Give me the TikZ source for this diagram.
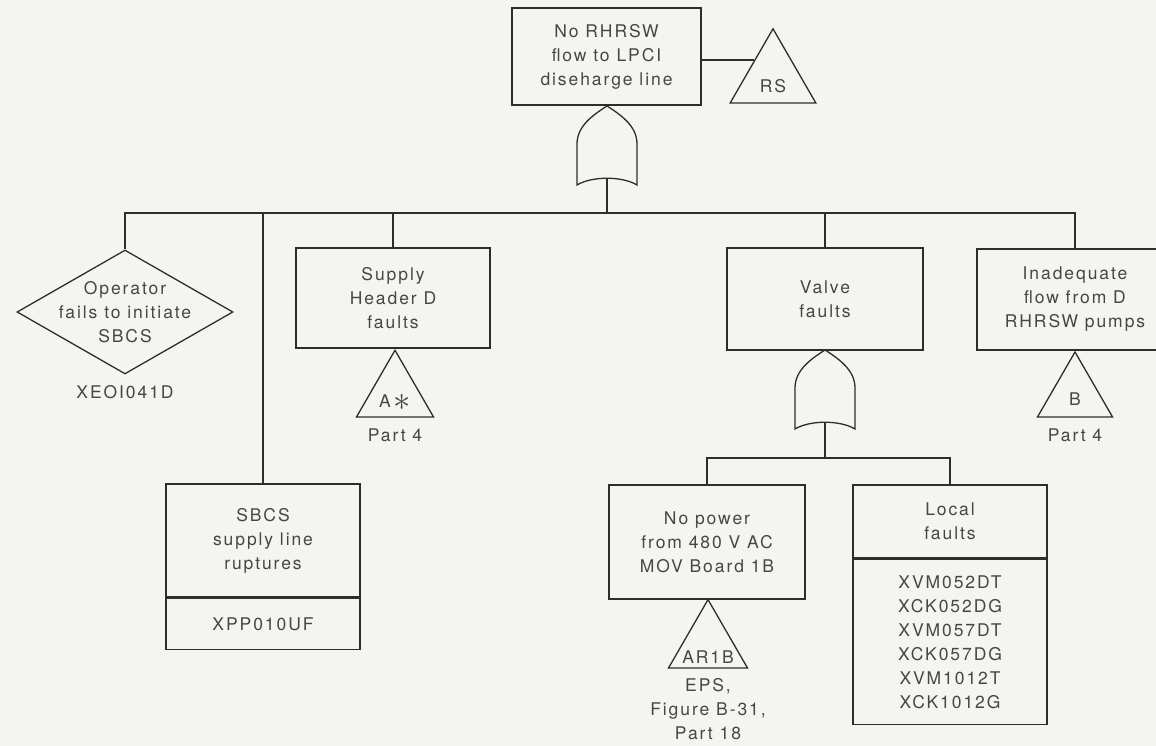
\documentclass[tikz,border=0pt]{standalone}
\usepackage{fontspec}
\setmainfont{TeX Gyre Heros}[LetterSpace=11]
\usepackage{tikz}
\usetikzlibrary{shapes.geometric,calc}

\definecolor{paper}{RGB}{244,244,241}
\definecolor{ink}{RGB}{45,45,45}
\definecolor{txt}{RGB}{70,70,70}

\tikzset{
  event/.style={draw=ink, line width=1.3pt, text=txt, align=center, inner sep=0},
  tri/.style={draw=ink, line width=1.3pt, regular polygon, regular polygon sides=3, inner sep=0},
  lbl/.style={text=txt, align=center, inner sep=0},
  tritext/.style={lbl, anchor=base},
  wire/.style={draw=ink, line width=1.8pt},
  orgate/.pic={
    \draw[ink, line width=1.3pt, fill=paper] (0,0) .. controls (14,-9) and (30,-20) .. (30,-38)
      -- (30,-79) .. controls (15,-70) and (-15,-70) .. (-30,-79)
      -- (-30,-38) .. controls (-30,-20) and (-14,-9) .. (0,0) -- cycle;
    \coordinate (-out) at (0,-72.25);
  }
}

\begin{document}
\begin{tikzpicture}[x=1pt, y=1pt, font=\fontsize{17.5}{24}\selectfont]
  \useasboundingbox (0,0) rectangle (1156,746);
  \clip (0,0) rectangle (1156,746);
  \fill[paper] (0,0) rectangle (1156,746);

  \coordinate (bus) at (0,533);
  \coordinate (sub) at (0,288);

  \node[event, minimum width=189, minimum height=97] (top) at (606.5,689.5)
    {No RHRSW\\flow to LPCI\\diseharge line};
  \node[tri, minimum size=99] (rs) at (773,667.7) {};
  \node[tritext] (rsl) at ([yshift=11]rs.south) {RS};
  \coordinate (rsin) at ($(rs.corner 1)!0.43!(rs.corner 2)$);
  \draw[wire] (top.east |- rsin) -- (rsin);
  \pic (g1) at (607,640) {orgate};

  \node[event, diamond, aspect=1.74, minimum width=216, minimum height=124, inner xsep=-30pt] (op) at (125,434)
    {Operator\\fails to initiate\\SBCS};
  \node[lbl] (opid) at (125,354) {XEOI041D};

  \node[event, minimum width=194, minimum height=113] (sbcs) at (263,205.5)
    {SBCS\\supply line\\ruptures};
  \node[event, minimum width=194, minimum height=51, anchor=north] (sbcsid) at (sbcs.south) {XPP010UF};

  \node[event, minimum width=194, minimum height=100] (hdr) at (393,448)
    {Supply\\Header D\\faults};
  \node[tri, minimum size=88.9] (atri) at (395,351.3) {};
  \node[tritext] (atril) at ([yshift=10]atri.south) {A\,\raisebox{-2.5pt}{\scalebox{2}{$\ast$}}};
  \node[lbl] (parta) at (395,311) {Part 4};

  \node[event, minimum width=196, minimum height=102] (valve) at (825,447)
    {Valve\\faults};
  \pic (g2) at (825,396) {orgate};

  \node[event, minimum width=196, minimum height=101] (inad) at (1075,446.5)
    {Inadequate\\flow from D\\RHRSW pumps};
  \node[tri, minimum size=86.6] (btri) at (1075,350.7) {};
  \node[tritext] (btril) at ([yshift=12]btri.south) {B};
  \node[lbl] (partb) at (1075,311) {Part 4};

  \node[event, minimum width=196, minimum height=114] (nopow) at (707,204)
    {No power\\from 480 V AC\\MOV Board 1B};
  \node[tri, minimum size=91.2] (artri) at (708,100.8) {};
  \node[tritext] (artril) at ([yshift=5]artri.south) {AR1B};
  \node[lbl] (eps) at (708,37) {EPS,\\Figure B-31,\\Part 18};

  \node[event, minimum width=194, minimum height=73] (local) at (950,224.5)
    {Local\\faults};
  \node[event, minimum width=194, minimum height=165, anchor=north] (localid) at (local.south)
    {XVM052DT\\XCK052DG\\XVM057DT\\XCK057DG\\XVM1012T\\XCK1012G};

  \draw[wire] (g1-out) -- (g1-out |- bus);
  \draw[wire] (op.north) |- (inad.north |- bus) -- (inad.north);
  \draw[wire] (sbcs.north) -- (sbcs.north |- bus);
  \draw[wire] (hdr.north) -- (hdr.north |- bus);
  \draw[wire] (valve.north) -- (valve.north |- bus);

  \draw[wire] (g2-out) -- (g2-out |- sub);
  \draw[wire] (nopow.north) |- (local.north |- sub) -- (local.north);
\end{tikzpicture}
\end{document}
